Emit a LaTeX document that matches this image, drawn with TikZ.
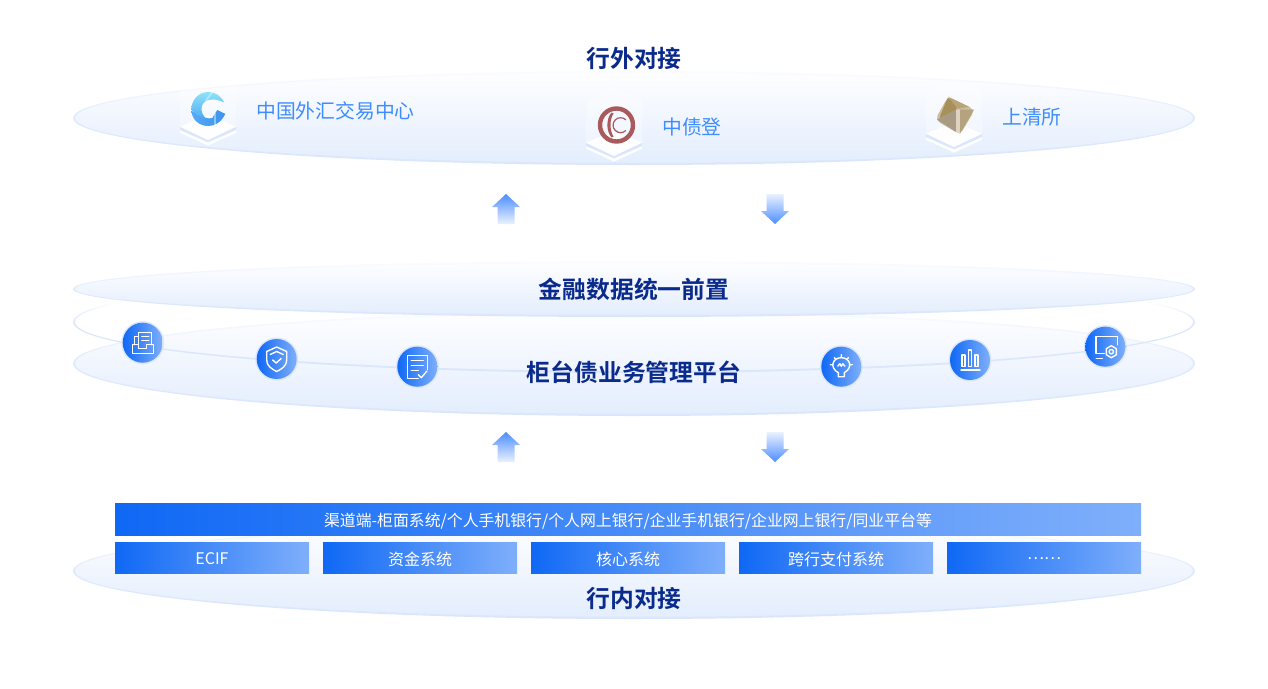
\documentclass[tikz,border=0pt]{standalone}
\usepackage{fontspec}
\setmainfont{Noto Sans CJK SC}[BoldFont={Noto Sans CJK SC Bold}]
\definecolor{navy}{HTML}{0A2A8C}
\definecolor{labelblue}{HTML}{3F8CFF}
\definecolor{barL}{HTML}{0F68F5}
\definecolor{barR}{HTML}{7FAFFB}
\definecolor{edge}{HTML}{D9E6FC}
\definecolor{edgeA}{HTML}{DFEAFC}
\definecolor{edgeB}{HTML}{EEF4FE}
\definecolor{edgeC}{HTML}{FAFCFF}
\definecolor{arrowS}{HTML}{4D8EFF}
\definecolor{arrowM}{HTML}{8AB5FF}
\definecolor{arrowP}{HTML}{EAF1FF}
\definecolor{discB}{HTML}{E3EDFD}
\definecolor{discT}{HTML}{FEFEFF}
\definecolor{logoBlueA}{HTML}{3C94EE}
\definecolor{logoBlueB}{HTML}{55ABF3}
\definecolor{logoCyan}{HTML}{8BE3FB}
\definecolor{logoRed}{HTML}{A85A5C}
\definecolor{tanA}{HTML}{B39D6E}
\definecolor{tanB}{HTML}{A99A84}
\definecolor{tanC}{HTML}{DDD3C0}
\definecolor{tanD}{HTML}{A8905A}
\definecolor{tanE}{HTML}{B5A27F}
\definecolor{tanF}{HTML}{CBBD9F}
\pgfdeclareverticalshading{discedge}{100bp}{color(0bp)=(edge); color(25bp)=(edge); color(50bp)=(edgeA); color(62bp)=(edgeB); color(75bp)=(edgeC); color(100bp)=(edgeC)}
\pgfdeclareverticalshading{ringedge}{100bp}{color(0bp)=(edge); color(45bp)=(edge); color(50bp)=(edgeA); color(56bp)=(edgeB); color(60bp)=(white); color(100bp)=(white)}
\tikzset{
  heading/.style={font=\fontsize{17.85}{22}\selectfont\bfseries,text=navy,inner sep=0pt},
  orglabel/.style={font=\fontsize{14.85}{18}\selectfont,text=labelblue,inner sep=0pt},
  barlabel/.style={font=\fontsize{12}{15}\selectfont,text=white,inner sep=0pt},
  striplabel/.style={font=\fontsize{11.9}{15}\selectfont,text=white,inner sep=0pt},
  barbox/.style={left color=barL,right color=barR},
  iconc/.style={circle,left color=barL,right color=barR,minimum size=30pt,inner sep=0pt},
  halo/.style={fill=edge},
  glyph/.style={draw=white,line width=1.05pt,line cap=round,line join=round,fill=none},
  upA/.style={top color=arrowS,middle color=arrowM,bottom color=arrowP},
  downA/.style={top color=arrowP,middle color=arrowM,bottom color=arrowS},
  tileglass/.style={fill=white,fill opacity=0.3},
  tilefront/.style={fill=white,fill opacity=0.95},
  tileedge/.style={fill=edge},
}
\newcommand{\discshape}[3][560]{%
  \path[top color=discT,bottom color=discB] (#2) ellipse [x radius=#1,y radius=#3];
  \path[even odd rule,shade,shading=discedge]
    (#2) ellipse [x radius=561,y radius=#3+1] (#2) ellipse [x radius=559,y radius=#3-1];
}
\newcommand{\tileshape}[2]{%
  \begin{scope}[shift={(#1,#2)}]
    \fill[tileglass] (-28,42) -- (-28,0) -- (0,-14) -- (28,0) -- (28,42) -- (0,55) -- cycle;
    \fill[tilefront] (-28,45) -- (0,57.3) -- (28,45) -- (28,47.7) -- (0,60.7) -- (-28,47.7) -- cycle;
    \fill[tileedge] (-28,41.7) -- (0,55) -- (28,41.7) -- (28,45) -- (0,57.3) -- (-28,45) -- cycle;
    \fill[tilefront] (-28,41.7) -- (0,30) -- (28,41.7) -- (0,55) -- cycle;
  \end{scope}}
\newcommand{\uparrowshape}[2]{%
  \path[upA,shift={(#1,#2)}] (0,0) -- (14,13) -- (8.5,13) -- (8.5,30) -- (-8.5,30) -- (-8.5,13) -- (-14,13) -- cycle;}
\newcommand{\downarrowshape}[2]{%
  \path[downA,shift={(#1,#2)}] (0,30) -- (14,17) -- (8.5,17) -- (8.5,0) -- (-8.5,0) -- (-8.5,17) -- (-14,17) -- cycle;}
\begin{document}
\begin{tikzpicture}[x=0.75pt,y=-0.75pt]
\useasboundingbox (0,0) rectangle (1268,689);
\fill[white] (0,0) rectangle (1268,689);

% discs
\coordinate (dTop) at (634,118);
\coordinate (dFront) at (634,289);
\coordinate (dRing) at (634,322);
\coordinate (dMid) at (634,363.5);
\coordinate (dBot) at (634,571);
\discshape{dTop}{46}
\discshape{dBot}{47}
\discshape{dMid}{51.5}
\path[even odd rule,shade,shading=ringedge]
  (dRing) ellipse [x radius=561,y radius=51] (dRing) ellipse [x radius=559,y radius=49];
\discshape{dFront}{27}

% tiles
\tileshape{208}{85}
\tileshape{614}{101}
\tileshape{954}{92}

% logo 1: crescent C
\begin{scope}[shift={(208.3,109)}]
  \path[left color=logoBlueB,right color=logoBlueA]
    (-17,2) .. controls (-16,11) and (-9,17) .. (0,17)
    .. controls (7,17) and (13,13) .. (17,5) -- (9,1) -- (4,9)
    .. controls (0,10) and (-4,9) .. (-6,6) -- cycle;
  \path[top color=logoCyan,bottom color=logoBlueB]
    (16,-6.3) .. controls (13,-13) and (7,-17) .. (0,-17)
    .. controls (-10,-17) and (-17,-9) .. (-17,1)
    .. controls (-14,5) and (-8,8) .. (-3,9)
    .. controls (-8,3) and (-8,-3) .. (-4,-7)
    .. controls (1,-11) and (9,-10) .. (16,-6.3) -- cycle;
  \fill[white,opacity=.35] (3,-17) -- (5,-17) -- (-2,-7) -- (-4,-8) -- cycle;
  \fill[white,opacity=.4] (5.5,4) rectangle (7.5,15.5);
\end{scope}

% logo 2: ring and C
\begin{scope}[shift={(616.5,125)}]
  \draw[logoRed,line width=3.3pt] (0,0) circle [x radius=16.5,y radius=16.5];
  \fill[logoRed] (-5,-12.5) .. controls (-10.5,-6) and (-10.5,6) .. (-5,12.5)
    -- (-3,11.5) .. controls (-7,5) and (-7,-5) .. (-3,-11.5) -- cycle;
  \draw[logoRed,line width=0.9pt] (9.4,5.5) arc [start angle=45,end angle=315,x radius=7.5,y radius=7.5];
\end{scope}

% logo 3: rounded cube
\begin{scope}[shift={(955,115.7)}]
  \fill[tanF,rounded corners=4pt] (-7,-19) -- (20,-6) -- (5,19) -- (-20,4) -- cycle;
  \fill[tanD,rounded corners=2pt] (-7,-19) -- (3,-7) -- (-16,3) -- cycle;
  \fill[tanD!70!tanC] (-7,-19) -- (14,-9) -- (3,-7) -- cycle;
  \fill[tanB] (-18,4) -- (1,-6) -- (1,16) -- cycle;
  \fill[tanC] (1,-6) -- (5,-6) -- (5,18) -- (1,16.5) -- cycle;
  \fill[tanE] (5,-6) -- (19,-6) -- (5,18) -- cycle;
\end{scope}

% texts in the top disc
\node[heading] (hTop) at (634,58) {行外对接};
\node[orglabel] (o1) at (335.5,111) {中国外汇交易中心};
\node[orglabel] (o2) at (692,127) {中债登};
\node[orglabel] (o3) at (1032,117) {上清所};

% arrows
\uparrowshape{506}{194}
\downarrowshape{775}{194}
\uparrowshape{506}{432}
\downarrowshape{775}{432}

% middle headings
\node[heading] (hFront) at (634,289) {金融数据统一前置};
\node[heading] (hMid) at (634,372) {柜台债业务管理平台};

% circular icons
\foreach \nm/\cx/\cy in {c1/142.7/342.7,c2/276.7/359,c3/417.3/366.7,c4/841.3/366.7,c5/970/360,c6/1105.3/346.7}{
  \fill[halo] (\cx,\cy) circle [x radius=21.5,y radius=21.5];
  \node[iconc] (\nm) at (\cx,\cy) {};
}
% tray with documents
\begin{scope}[shift={(142.7,342.7)}]
  \draw[glyph] (-10,2) -- (-4,2) -- (-4,6) -- (4,6) -- (4,2) -- (10.5,2) -- (10.5,10.5) -- (-10,10.5) -- cycle;
  \draw[glyph] (-8,2) -- (-8,-6.5) -- (-5,-6.5);
  \draw[glyph] (-4,2) -- (-4,-10.5) -- (9,-10.5) -- (9,2);
  \draw[glyph] (-1,-6.5) -- (6,-6.5) (-1,-2.5) -- (6,-2.5);
\end{scope}
% shield
\begin{scope}[shift={(276.7,359)}]
  \draw[glyph] (0,-12) -- (10,-7.5) -- (10,1) .. controls (10,7) and (5,10) .. (0,12.5) .. controls (-5,10) and (-10,7) .. (-10,1) -- (-10,-7.5) -- cycle;
  \draw[glyph] (-6.5,-4.5) -- (0,-7.5) -- (6.5,-4.5);
  \draw[glyph] (-4,1) -- (-0.5,4) -- (4.5,-0.5);
\end{scope}
% document with tick
\begin{scope}[shift={(417.3,366.7)}]
  \draw[glyph] (1,11.5) -- (-10,11.5) -- (-10,-11.5) -- (10,-11.5) -- (10,3);
  \draw[glyph] (-6,-6.5) -- (6,-6.5) (-6,-1.5) -- (6,-1.5) (-6,3.5) -- (1,3.5);
  \draw[glyph] (1,8) -- (4,11) -- (9.5,4.5);
\end{scope}
% light bulb
\begin{scope}[shift={(841.3,366.7)}]
  \draw[glyph] (-3,6) .. controls (-12,1) and (-9,-9) .. (0,-9) .. controls (9,-9) and (12,1) .. (3,6) -- (3,10) -- (-3,10) -- cycle;
  \draw[glyph] (-3.5,-0.5) -- (-1.5,-3) -- (0,-0.5) -- (1.5,-3) -- (3.5,-0.5);
  \draw[glyph] (-11,-2) -- (-8.5,-2) (11,-2) -- (8.5,-2) (-7,-9) -- (-5.5,-7.5) (7,-9) -- (5.5,-7.5) (0,-12) -- (0,-10);
\end{scope}
% bar chart
\begin{scope}[shift={(970,360)}]
  \draw[glyph] (-8,-5) rectangle (-5,6.5);
  \draw[glyph] (-1.5,-10) rectangle (1.5,6.5);
  \draw[glyph] (5,-5) rectangle (8,6.5);
  \draw[glyph] (-9,10) -- (10,10);
\end{scope}
% monitor with gear
\begin{scope}[shift={(1105.3,346.7)}]
  \draw[glyph] (-1,7) -- (-9.5,7) -- (-9.5,-10) -- (12,-10) -- (12,-2);
  \draw[glyph] (-9,12) -- (-3,12);
  \draw[glyph] (6,-1) -- (11,2) -- (11,8) -- (6,11) -- (1,8) -- (1,2) -- cycle;
  \draw[glyph] (6,5) circle [x radius=2.2,y radius=2.2];
\end{scope}

% bottom heading and bars
\node[heading] (hBot) at (634,598) {行内对接};
\node[barbox,minimum width=769.5pt,minimum height=24pt,inner sep=0pt] (strip) at (628,519) {};
\node[striplabel] at (628,521) {渠道端-柜面系统/个人手机银行/个人网上银行/企业手机银行/企业网上银行/同业平台等};
\foreach \nm/\cx/\txt in {b1/212/ECIF,b2/420/资金系统,b3/628/核心系统,b4/836/跨行支付系统,b5/1044/……}{
  \node[barbox,minimum width=145.5pt,minimum height=23.25pt,inner sep=0pt] (\nm) at (\cx,557.5) {};
  \node[barlabel] at (\cx,559) {\txt};
}
\end{tikzpicture}
\end{document}
